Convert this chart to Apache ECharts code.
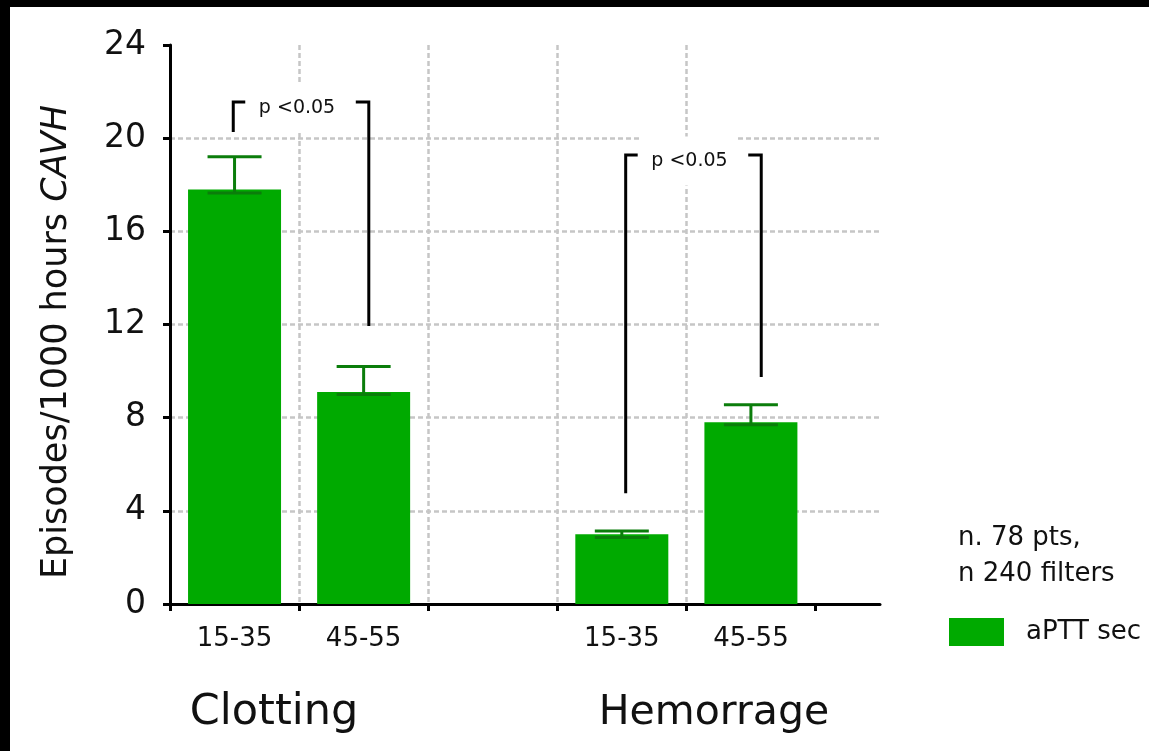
<!DOCTYPE html>
<html>
<head>
<meta charset="utf-8">
<script src="https://cdn.jsdelivr.net/npm/echarts@6/dist/echarts.min.js"></script>
<style>
html,body{margin:0;padding:0;background:#fff;}
#chart{width:1149px;height:751px;}
</style>
</head>
<body>
<div id="chart"></div>
<script>
// ---- data ----
var categories = ['15-35', '45-55', '15-35', '45-55'];
var slots = [0, 1, 3, 4];               // category slot index on the x axis
var groups = ['Clotting', 'Hemorrage'];
var values = [17.8, 9.1, 3.0, 7.8];
var errLow = [17.65, 9.0, 2.85, 7.7];
var errHigh = [19.2, 10.2, 3.13, 8.55];
var yTicks = [0, 4, 8, 12, 16, 20, 24];
var seriesName = 'aPTT sec';
var noteLines = ['n. 78 pts,', 'n 240 filters'];
// significance brackets: [left slot x, left bottom y, right slot x, right bottom y, top y]
var brackets = [
  [0.49, 20.27, 1.54, 11.94, 21.55],
  [3.53, 4.75, 4.58, 9.75, 19.28]
];
var bracketLabel = 'p <0.05';

var FONT = 'DejaVu Sans';
var chart = echarts.init(document.getElementById('chart'));

var barData = slots.map(function (s, i) { return [s + 0.5, values[i]]; });
var errData = slots.map(function (s, i) { return [s + 0.5, errLow[i], errHigh[i]]; });
var labelPos = slots.map(function (s) { return s + 0.5; });

var gridStyle = { color: '#c6c6c6', width: 2.5, type: [5, 3] };

var option = {
  backgroundColor: '#fff',
  animation: false,
  grid: { left: 170, right: 269, top: 45, bottom: 147, containLabel: false },
  legend: {
    data: [seriesName],
    left: 944, top: 613,
    icon: 'rect',
    itemWidth: 55, itemHeight: 28,
    textStyle: { fontFamily: FONT, fontSize: 26, color: '#111', padding: [0, 0, 0, 17] }
  },
  xAxis: {
    type: 'value', min: 0, max: 5.5, interval: 1,
    axisLine: { show: true, lineStyle: { color: '#000', width: 3 } },
    axisTick: { show: true, length: 7, lineStyle: { color: '#000', width: 3 },
      customValues: [0, 1, 2, 3, 4, 5] },
    axisLabel: {
      customValues: labelPos,
      margin: 22,
      fontFamily: FONT, fontSize: 26, color: '#111',
      formatter: function (v) {
        var i = labelPos.indexOf(v);
        return i >= 0 ? categories[i] : '';
      }
    },
    splitLine: { show: true, showMinLine: false, showMaxLine: false, lineStyle: gridStyle }
  },
  yAxis: {
    type: 'value', min: 0, max: 24, interval: 4,
    axisLine: { show: true, lineStyle: { color: '#000', width: 3 } },
    axisTick: { show: true, length: 7, lineStyle: { color: '#000', width: 3 } },
    axisLabel: { margin: 24, fontFamily: FONT, fontSize: 33, color: '#111',
      formatter: function (v) { return yTicks.indexOf(v) >= 0 ? String(v) : ''; } },
    splitLine: { show: true, showMinLine: false, showMaxLine: false, lineStyle: gridStyle }
  },
  series: [
    {
      name: seriesName, type: 'bar', data: barData, barWidth: 93,
      itemStyle: { color: '#00aa00' }, z: 2
    },
    {
      type: 'custom', data: errData, z: 3,
      renderItem: function (params, api) {
        var lo = api.coord([api.value(0), api.value(1)]);
        var hi = api.coord([api.value(0), api.value(2)]);
        var hw = 27;
        var st = { stroke: '#0b7d0b', lineWidth: 3 };
        return { type: 'group', children: [
          { type: 'line', shape: { x1: lo[0], y1: lo[1], x2: hi[0], y2: hi[1] }, style: st },
          { type: 'line', shape: { x1: hi[0] - hw, y1: hi[1], x2: hi[0] + hw, y2: hi[1] }, style: st },
          { type: 'line', shape: { x1: lo[0] - hw, y1: lo[1], x2: lo[0] + hw, y2: lo[1] }, style: st }
        ]};
      }
    },
    {
      type: 'custom', data: brackets, z: 4,
      renderItem: function (params, api) {
        var lb = api.coord([api.value(0), api.value(1)]);
        var lt = api.coord([api.value(0), api.value(4)]);
        var rb = api.coord([api.value(2), api.value(3)]);
        var rt = api.coord([api.value(2), api.value(4)]);
        var st = { stroke: '#000', lineWidth: 3, fill: null };
        var cx = (lt[0] + rt[0]) / 2 - 4;
        return { type: 'group', children: [
          { type: 'polyline', shape: { points: [[lb[0], lb[1]], [lt[0], lt[1]], [lt[0] + 12, lt[1]]] }, style: st },
          { type: 'polyline', shape: { points: [[rt[0] - 13, rt[1]], [rt[0], rt[1]], [rb[0], rb[1]]] }, style: st },
          { type: 'text', x: cx, y: lt[1] + 6, style: {
              text: bracketLabel, fontFamily: FONT, fontSize: 19, fill: '#111',
              align: 'center', verticalAlign: 'middle',
              backgroundColor: '#fff', padding: [18, 10, 12, 10] } }
        ]};
      }
    }
  ],
  graphic: [
    { type: 'rect', shape: { x: 0, y: 0, width: 1149, height: 7 }, style: { fill: '#000' }, z: 100 },
    { type: 'rect', shape: { x: 0, y: 0, width: 10, height: 751 }, style: { fill: '#000' }, z: 100 },
    { type: 'text', x: 57, y: 342, rotation: Math.PI / 2, style: {
        text: '{a|Episodes/1000 hours }{b|CAVH}',
        align: 'center', verticalAlign: 'middle',
        rich: { a: { fontFamily: FONT, fontSize: 35, fill: '#111' },
                b: { fontFamily: FONT, fontSize: 35, fill: '#111', fontStyle: 'italic' } } } },
    { type: 'text', x: 274, y: 713, style: { text: groups[0], fontFamily: FONT, fontSize: 43, fill: '#111', align: 'center', verticalAlign: 'middle' } },
    { type: 'text', x: 714, y: 713, style: { text: groups[1], fontFamily: FONT, fontSize: 41, fill: '#111', align: 'center', verticalAlign: 'middle' } },
    { type: 'text', x: 958, y: 538, style: { text: noteLines[0], fontFamily: FONT, fontSize: 26, fill: '#111', align: 'left', verticalAlign: 'middle' } },
    { type: 'text', x: 958, y: 574, style: { text: noteLines[1], fontFamily: FONT, fontSize: 26, fill: '#111', align: 'left', verticalAlign: 'middle' } }
  ]
};
chart.setOption(option);
</script>
</body>
</html>
